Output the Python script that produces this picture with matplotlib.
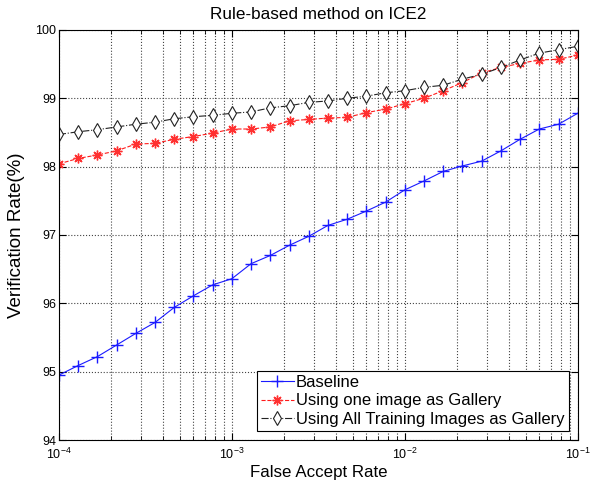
import numpy as np
import matplotlib
matplotlib.use("Agg")
from matplotlib import pyplot as plt
from matplotlib.ticker import LogLocator, NullFormatter

plt.rcParams['font.family'] = ['Liberation Sans', 'DejaVu Sans']
plt.rcParams['mathtext.fontset'] = 'custom'
plt.rcParams['mathtext.rm'] = 'Liberation Sans'

far = np.logspace(-4, -1, 28)

baseline = [94.95, 95.09, 95.22, 95.39, 95.56, 95.72, 95.94, 96.11, 96.27, 96.36,
            96.58, 96.70, 96.85, 96.98, 97.14, 97.23, 97.35, 97.48, 97.66, 97.79,
            97.93, 98.01, 98.08, 98.23, 98.40, 98.55, 98.62, 98.78]
one_image = [98.04, 98.12, 98.17, 98.23, 98.33, 98.34, 98.40, 98.44, 98.49, 98.55,
             98.55, 98.58, 98.67, 98.69, 98.71, 98.72, 98.79, 98.84, 98.92, 99.00,
             99.11, 99.23, 99.37, 99.45, 99.51, 99.56, 99.57, 99.63]
all_images = [98.47, 98.51, 98.54, 98.58, 98.62, 98.65, 98.70, 98.73, 98.75, 98.78,
              98.80, 98.86, 98.89, 98.94, 98.96, 99.00, 99.03, 99.08, 99.11, 99.16,
              99.19, 99.28, 99.35, 99.45, 99.56, 99.66, 99.71, 99.76]

labels = ['Baseline', 'Using one image as Gallery',
          'Using All Training Images as Gallery']

fig = plt.figure(figsize=(5.95, 4.82), dpi=100)
ax = fig.add_axes([0.099, 0.087, 0.872, 0.851])

ax.semilogx(far, baseline, '-', color='#1a1aff', marker='+', markersize=9,
            markeredgewidth=1.0, linewidth=0.8, label=labels[0])
ax.semilogx(far, one_image, '--', color='#ff1a1a', marker=(8, 2, 0), markersize=7,
            markeredgewidth=1.0, markeredgecolor='#ff3030',
            linewidth=0.8, label=labels[1])
ax.semilogx(far, all_images, '-.', color='#222222', marker='d', markersize=7,
            markerfacecolor='white', markeredgewidth=0.8, linewidth=0.8,
            label=labels[2])

ax.set_xlim(1e-4, 1e-1)
ax.set_ylim(94, 100)
ax.xaxis.set_major_locator(LogLocator(base=10, numticks=10))
ax.xaxis.set_minor_locator(LogLocator(base=10, subs=np.arange(2, 10), numticks=10))
ax.xaxis.set_minor_formatter(NullFormatter())
ax.set_yticks(range(94, 101))

ax.grid(True, which='major', linestyle=':', color='#444444', linewidth=0.8)
ax.grid(True, which='minor', axis='x', linestyle=':', color='#444444', linewidth=0.8)
ax.tick_params(which='both', direction='in', top=True, right=True, labelsize=9)
ax.tick_params(which='major', length=5)
ax.tick_params(which='minor', length=3)
ax.tick_params(axis='x', pad=5)
ax.tick_params(axis='y', pad=2)

ax.set_title('Rule-based method on ICE2', fontsize=12.3, pad=8)
ax.set_xlabel('False Accept Rate', fontsize=12.2, labelpad=2)
ax.set_ylabel('Verification Rate(%)', fontsize=13.5, labelpad=7)

leg = ax.legend(loc='lower right', fontsize=12, fancybox=False, framealpha=1,
                edgecolor='black', borderpad=0.25, labelspacing=0.2,
                handlelength=2.0, handletextpad=0.1, borderaxespad=0.55)
leg.get_frame().set_linewidth(0.8)

fig.savefig('out.png', dpi=100)
plt.close(fig)
